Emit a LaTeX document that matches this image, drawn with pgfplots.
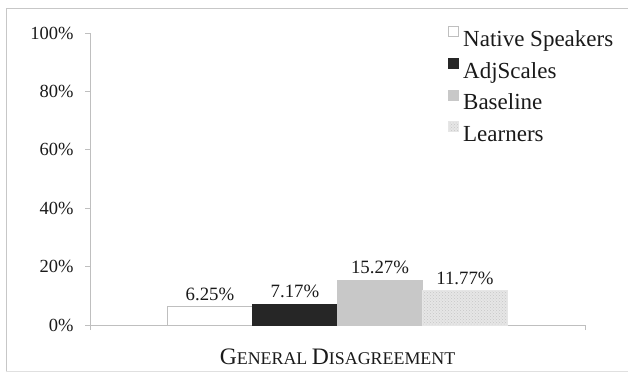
\documentclass[border=0pt]{standalone}
\usepackage{pgfplots}
\pgfplotsset{compat=1.18}
\usepackage{fontspec}
\setmainfont{Liberation Serif}
\usetikzlibrary{patterns}
\definecolor{axisgray}{HTML}{BFBFBF}
\definecolor{darkbar}{HTML}{262626}
\definecolor{lightbar}{HTML}{C8C8C8}
\definecolor{learnbar}{HTML}{E6E6E6}
\definecolor{txt}{HTML}{1A1A1A}
\begin{document}
\begin{tikzpicture}[x=1pt,y=1pt]
\useasboundingbox (0,0) rectangle (628,372);
\draw[black!22, line width=1pt] (6,0) -- (6,363) -- (640,363);
\draw[black!12, line width=0.8pt] (6,1) -- (640,1);
\begin{axis}[
  at={(90pt,47pt)}, anchor=south west,
  scale only axis, width=495pt, height=292pt,
  xmin=-1, xmax=1, ymin=0, ymax=100,
  axis x line*=bottom, axis y line*=left,
  axis line style={axisgray, line width=0.8pt},
  tick style={axisgray, line width=0.8pt},
  tick align=outside, major tick length=5pt,
  ybar=0pt, bar width=85pt,
  ytick={0,20,40,60,80,100},
  yticklabel={\pgfmathprintnumber{\tick}\%},
  /pgf/number format/assume math mode=true,
  yticklabel style={font=\fontsize{18.5}{22}\selectfont, text=txt, xshift=-8pt},
  xtick={-1,1}, xticklabels={},
  extra x ticks={0},
  extra x tick labels={{\fontsize{23.6}{26}\selectfont G\fontsize{17.9}{20}\selectfont ENERAL \fontsize{23.6}{26}\selectfont D\fontsize{17.9}{20}\selectfont ISAGREEMENT}},
  extra x tick style={major tick length=0pt, xticklabel style={text=txt, anchor=base, yshift=-39pt}},
  nodes near coords={\pgfmathprintnumber[fixed,precision=2,fixed zerofill]{\pgfplotspointmeta}\%},
  every node near coord/.append style={font=\fontsize{18.8}{22}\selectfont, text=txt, inner sep=2pt, yshift=4pt},
  legend style={at={(0.722,1.026)}, anchor=north west, draw=none, fill=none,
    font=\fontsize{23}{26}\selectfont, text=txt, row sep=8pt, column sep=3pt, inner sep=0pt,
    cells={anchor=west}},
  legend image code/.code={\draw[#1] (0pt,3pt) rectangle (10pt,13pt);},
  clip=false,
]
\addplot[draw=axisgray, fill=white, line width=0.6pt] coordinates {(0,6.25)};
\addlegendentry{Native Speakers}
\addplot[draw=darkbar, fill=darkbar] coordinates {(0,7.17)};
\addlegendentry{AdjScales}
\addplot[draw=lightbar, fill=lightbar] coordinates {(0,15.27)};
\addlegendentry{Baseline}
\addplot[draw=learnbar, fill=learnbar, postaction={pattern=crosshatch dots, pattern color=black!22}] coordinates {(0,11.77)};
\addlegendentry{Learners}
\end{axis}
\end{tikzpicture}
\end{document}
